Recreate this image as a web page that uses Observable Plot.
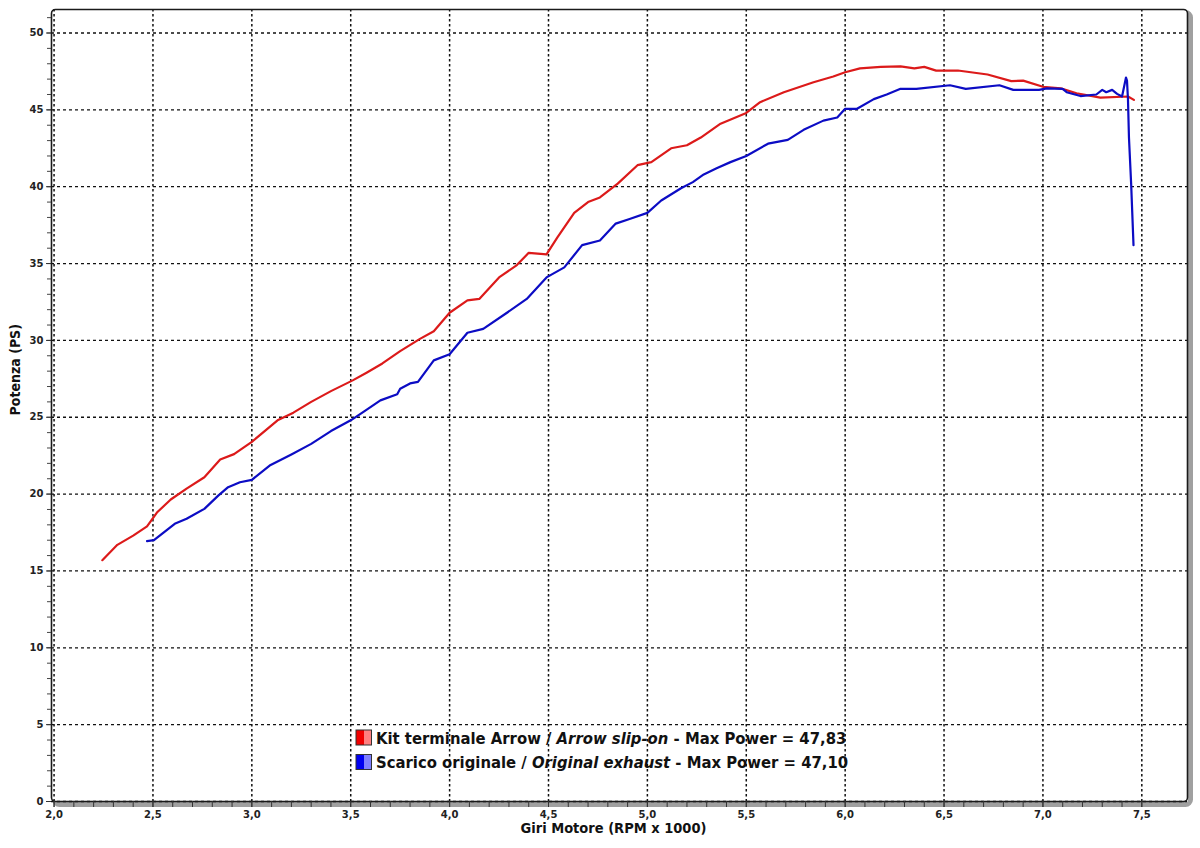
<!DOCTYPE html>
<html>
<head>
<meta charset="utf-8">
<script src="https://cdn.jsdelivr.net/npm/d3@7"></script>
<script src="https://cdn.jsdelivr.net/npm/@observablehq/plot@0.6"></script>
<style>
  html, body { margin: 0; padding: 0; background: #fff; }
  #chart svg { display: block; }
</style>
</head>
<body>
<div id="chart"></div>
<script>
// ---- Data ----
const arrowRpm = [2.244,2.32,2.40,2.47,2.52,2.59,2.67,2.76,2.84,2.91,3.00,3.13,3.21,3.30,3.40,3.51,3.58,3.66,3.75,3.85,3.92,4.00,4.09,4.15,4.25,4.34,4.40,4.49,4.545,4.63,4.70,4.76,4.85,4.95,5.02,5.12,5.20,5.27,5.37,5.50,5.57,5.69,5.84,5.94,6.00,6.075,6.18,6.28,6.35,6.40,6.46,6.57,6.72,6.84,6.90,7.00,7.09,7.17,7.29,7.43,7.46];
const arrowPower = [15.7,16.7,17.3,17.9,18.8,19.65,20.36,21.1,22.25,22.6,23.4,24.8,25.3,26.0,26.7,27.4,27.9,28.5,29.3,30.1,30.6,31.8,32.6,32.7,34.1,34.9,35.7,35.6,36.7,38.3,39.0,39.3,40.2,41.4,41.6,42.5,42.7,43.2,44.1,44.8,45.5,46.15,46.8,47.17,47.45,47.7,47.8,47.83,47.7,47.8,47.55,47.56,47.3,46.87,46.9,46.5,46.4,46.08,45.8,45.87,45.65];

const origRpm = [2.47,2.505,2.61,2.67,2.76,2.83,2.88,2.94,3.00,3.09,3.20,3.30,3.40,3.50,3.57,3.65,3.735,3.75,3.80,3.84,3.92,4.00,4.09,4.17,4.29,4.39,4.49,4.58,4.67,4.76,4.84,4.91,5.00,5.07,5.17,5.23,5.285,5.35,5.42,5.50,5.61,5.71,5.79,5.89,5.96,6.00,6.06,6.145,6.21,6.28,6.36,6.53,6.61,6.78,6.85,6.98,7.02,7.10,7.12,7.19,7.27,7.30,7.32,7.35,7.375,7.40,7.42,7.425,7.43,7.435,7.446,7.458];
const origPower = [16.94,17.0,18.07,18.4,19.04,19.9,20.45,20.77,20.93,21.86,22.58,23.27,24.1,24.8,25.4,26.1,26.5,26.85,27.2,27.3,28.7,29.1,30.5,30.75,31.8,32.7,34.1,34.75,36.2,36.5,37.6,37.9,38.3,39.1,39.9,40.3,40.8,41.2,41.6,42.0,42.8,43.05,43.7,44.3,44.5,45.07,45.07,45.7,46.0,46.37,46.37,46.6,46.37,46.6,46.3,46.3,46.4,46.37,46.15,45.9,46.0,46.3,46.15,46.3,46.04,45.87,47.1,46.9,45.7,43.2,40.2,36.2];

const seriesNames = ["Arrow", "Original"];
const seriesColors = ["#dc1a1a", "#0c0cc4"];
const swatchDark = ["#f00000", "#0000f0"];
const swatchLight = ["#ff8080", "#8080ff"];
const legendItalian = ["Kit terminale Arrow / ", "Scarico originale / "];
const legendEnglish = ["Arrow slip-on", "Original exhaust"];
const legendMax = [" - Max Power = 47,83", " - Max Power = 47,10"];

const xTicks = [2.0,2.5,3.0,3.5,4.0,4.5,5.0,5.5,6.0,6.5,7.0,7.5];
const yTicks = [0,5,10,15,20,25,30,35,40,45,50];
const xMinorTicks = d3.range(20, 76).map(d => d / 10);
const yMinorTicks = d3.range(0, 52);

const xTitle = "Giri Motore (RPM x 1000)";
const yTitle = "Potenza (PS)";

// ---- Build table ----
const rows = [
  ...arrowRpm.map((x, i) => ({rpm: x, ps: arrowPower[i], s: seriesNames[0]})),
  ...origRpm.map((x, i) => ({rpm: x, ps: origPower[i], s: seriesNames[1]}))
];

const comma1 = d => d.toFixed(1).replace(".", ",");
const condensed = "'DejaVu Sans Condensed', 'DejaVu Sans', sans-serif";

const chart = Plot.plot({
  width: 1200,
  height: 848,
  marginLeft: 51,
  marginRight: 13,
  marginTop: 9,
  marginBottom: 47,
  style: {fontFamily: "'DejaVu Sans', sans-serif", background: "#fff", color: "#222"},
  x: {domain: [1.987, 7.731]},
  y: {domain: [0, 51.53]},
  color: {domain: seriesNames, range: seriesColors},
  marks: [
    // drop shadow of the frame
    Plot.frame({stroke: "#a0a0a0", strokeWidth: 5, dx: 3, dy: 3, rx: 5}),
    Plot.frame({fill: "#fff", stroke: null}),
    // dotted grid
    Plot.gridX(xTicks, {stroke: "#111", strokeOpacity: 1, strokeWidth: 1.5, strokeDasharray: "2.5,2.5"}),
    Plot.gridY(yTicks, {stroke: "#111", strokeOpacity: 1, strokeWidth: 1.3, strokeDasharray: "3,3"}),
    // curves
    Plot.line(rows, {x: "rpm", y: "ps", z: "s", stroke: "s", strokeWidth: 2.2, curve: "linear"}),
    // frame
    Plot.frame({stroke: "#1a1a1a", strokeWidth: 1.6, rx: 4}),
    // axes
    Plot.axisY(yMinorTicks, {tickSize: 4, tickFormat: () => "", label: null, stroke: "#444"}),
    Plot.axisY(yTicks, {tickSize: 5, tickPadding: 3, tickFormat: d => String(d), label: null,
      fontWeight: "bold", fontSize: 10, fill: "#222", stroke: "#333"}),
    Plot.axisX(xMinorTicks, {tickSize: 6, tickFormat: () => "", label: null, stroke: "#333"}),
    Plot.axisX(xTicks, {tickSize: 6, tickPadding: 3, tickFormat: comma1, label: null,
      fontWeight: "bold", fontSize: 10, fill: "#222", stroke: "#333"}),
    // axis titles
    Plot.text([yTitle], {text: d => d, frameAnchor: "left", dx: -36, dy: 10, rotate: -90,
      fontWeight: "bold", fontSize: 14, fontFamily: condensed, fill: "#111"}),
    Plot.text([xTitle], {text: d => d, frameAnchor: "bottom", dy: 31, dx: -6,
      fontWeight: "bold", fontSize: 14.5, fontFamily: condensed, fill: "#111"})
  ]
});

document.getElementById("chart").appendChild(chart);

// ---- Legend inside plot area ----
const svg = d3.select(chart);
const lg = svg.append("g").attr("class", "legend").attr("text-anchor", "start");
seriesNames.forEach((name, i) => {
  const y0 = 730 + i * 24.5;
  const g = lg.append("g");
  g.append("rect").attr("x", 356).attr("y", y0).attr("width", 8).attr("height", 15).attr("fill", swatchDark[i]);
  g.append("rect").attr("x", 364).attr("y", y0).attr("width", 7.5).attr("height", 15).attr("fill", swatchLight[i]);
  g.append("rect").attr("x", 356).attr("y", y0).attr("width", 15.5).attr("height", 15).attr("fill", "none").attr("stroke", "#333").attr("stroke-width", 1);
  const t = g.append("text").attr("x", 376).attr("y", y0 + 13.5)
    .attr("text-anchor", "start")
    .attr("font-family", condensed).attr("font-weight", "bold").attr("font-size", 16.5).attr("fill", "#111");
  t.append("tspan").text(legendItalian[i]);
  t.append("tspan").attr("font-style", "italic").text(legendEnglish[i]);
  t.append("tspan").text(legendMax[i]);
});
</script>
</body>
</html>
